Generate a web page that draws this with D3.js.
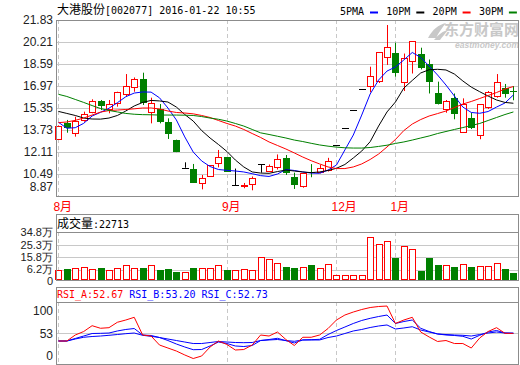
<!DOCTYPE html>
<html>
<head>
<meta charset="utf-8">
<script src="https://cdn.jsdelivr.net/npm/d3@7/dist/d3.min.js"></script>
<style>
    body { margin: 0; background: #fff; }
    svg { display: block; font-family: "Liberation Sans", Arial, sans-serif; }
    .grid line { stroke: #c8c8c8; shape-rendering: crispEdges; }
    .vgrid line { stroke: #c8c8c8; stroke-dasharray: 4,3; shape-rendering: crispEdges; }
    .frame { fill: none; stroke: #8c8c8c; shape-rendering: crispEdges; }
    .axis text { font-size: 12px; fill: #222; }
    .axis.vol text { font-size: 11px; }
    .mono { font-family: "DejaVu Sans Mono", monospace; font-size: 10px; }
    .cjk { font-family: "Noto Sans CJK SC", sans-serif; font-size: 12px; }
    .ma { fill: none; stroke-width: 1; }
</style>
</head>
<body>
<svg id="chart" width="520" height="365"></svg>
<script>

// Title / legend texts
var stockName = "大港股份";
var stockInfo = "[002077] 2016-01-22 10:55";
var maLabels = ["5PMA", "10PM", "20PM", "30PM"];
var maColors = ["#0000ff", "#000000", "#ff0000", "#008000"];

// Month ticks (index of first trading day of the month)
var monthIdx = [0, 20, 33, 40];
var monthLabels = ["8月", "9月", "12月", "1月"];

// Daily OHLC
var open = [13.05, 14.22, 13.49, 14.47, 15.08, 15.84, 15.28, 15.70, 16.36, 16.87,
    17.49, 15.03, 15.26, 14.34, 12.99, 10.95, 10.86, 9.85, 10.37, 11.28,
    11.72, 9.66, 9.62, 9.72, 11.20, 10.73, 11.03, 11.65, 10.25, 9.63,
    10.62, 10.66, 10.75, 12.60, 13.85, 15.17, 16.73, 16.99, 17.34, 19.07,
    19.42, 17.27, 18.83, 19.33, 18.59, 16.43, 15.26, 16.06, 13.56, 14.59,
    13.36, 15.40, 16.23, 16.80, 16.62];
var high = [14.05, 14.47, 14.71, 15.08, 15.99, 15.94, 15.94, 16.55, 17.85, 17.60,
    17.95, 16.11, 15.64, 14.59, 13.02, 11.35, 11.23, 10.42, 11.15, 12.26,
    11.74, 10.89, 9.83, 10.31, 11.20, 11.19, 11.93, 11.89, 10.59, 10.56,
    11.22, 11.15, 11.68, 12.60, 13.85, 15.17, 16.73, 18.39, 19.47, 21.46,
    20.16, 19.36, 20.28, 19.79, 18.92, 17.29, 15.94, 16.42, 16.06, 15.00,
    15.64, 16.60, 17.85, 17.12, 16.97];
var low = [13.02, 13.53, 13.24, 14.34, 14.96, 15.20, 14.96, 15.45, 16.18, 16.55,
    15.57, 14.22, 14.22, 13.07, 12.10, 10.95, 9.85, 9.36, 10.29, 10.98,
    10.64, 9.66, 9.44, 9.29, 10.59, 10.66, 10.82, 10.42, 9.39, 9.48,
    10.25, 10.54, 10.67, 12.60, 13.85, 15.17, 16.73, 16.51, 17.19, 18.52,
    17.66, 16.60, 17.89, 18.19, 16.42, 15.61, 15.00, 14.52, 13.55, 13.80,
    13.05, 15.28, 16.11, 16.11, 15.92];
var close = [14.02, 13.86, 14.42, 14.89, 15.84, 15.52, 15.62, 16.51, 16.97, 17.46,
    15.74, 15.70, 14.34, 13.44, 12.13, 10.95, 9.85, 10.17, 11.12, 11.76,
    10.66, 9.66, 9.66, 10.20, 11.20, 11.08, 11.59, 10.53, 9.68, 10.56,
    10.55, 10.95, 11.43, 12.60, 13.85, 15.17, 16.73, 17.71, 19.45, 19.86,
    17.95, 19.05, 20.26, 18.27, 17.27, 15.62, 15.89, 14.89, 15.64, 13.90,
    15.62, 16.51, 17.24, 16.36, 16.55];

// Moving averages
var ma5 = [14.30, 13.86, 13.90, 14.22, 14.76, 15.03, 15.33, 15.74, 16.18, 16.45,
    16.53, 16.52, 16.10, 15.35, 14.47, 13.22, 12.11, 11.45, 11.04, 10.82,
    10.76, 10.71, 10.64, 10.51, 10.37, 10.31, 10.49, 10.82, 10.75, 10.64,
    10.56, 10.54, 10.78, 11.15, 12.26, 13.36, 14.83, 16.38, 17.41, 18.07,
    18.37, 18.89, 19.44, 19.07, 18.44, 17.78, 17.04, 16.23, 15.42, 15.02,
    14.96, 15.09, 15.42, 15.72, 16.31];
var ma10 = [15.10, 14.95, 14.80, 14.61, 14.54, 14.53, 14.61, 14.80, 15.13, 15.50,
    15.76, 15.91, 15.87, 15.79, 15.42, 14.87, 14.39, 13.69, 13.14, 12.66,
    12.15, 11.52, 11.01, 10.64, 10.56, 10.54, 10.67, 10.78, 10.71, 10.64,
    10.59, 10.64, 10.75, 10.91, 11.19, 11.67, 12.18, 12.87, 14.02, 15.06,
    15.79, 16.82, 17.38, 17.93, 18.17, 18.20, 18.15, 17.85, 17.34, 16.89,
    16.55, 16.23, 15.94, 15.76, 15.70];
var ma20 = [14.27, 14.32, 14.44, 14.61, 14.83, 15.05, 15.16, 15.20, 15.24, 15.29,
    15.35, 15.35, 15.28, 15.13, 15.02, 14.98, 14.92, 14.80, 14.65, 14.43,
    14.21, 14.02, 13.77, 13.47, 13.18, 12.85, 12.59, 12.33, 12.04, 11.74,
    11.47, 11.23, 11.01, 10.89, 10.89, 11.01, 11.23, 11.56, 11.96, 12.48,
    13.03, 13.69, 14.17, 14.50, 14.76, 14.94, 15.13, 15.38, 15.64, 15.83,
    16.05, 16.27, 16.49, 16.75, 16.93];
var ma30 = [16.36, 16.20, 15.98, 15.76, 15.53, 15.31, 15.17, 15.06, 14.95, 14.89,
    14.86, 14.85, 14.83, 14.83, 14.83, 14.82, 14.80, 14.72, 14.61, 14.52,
    14.39, 14.21, 14.02, 13.77, 13.52, 13.40, 13.27, 13.14, 12.99, 12.88,
    12.75, 12.63, 12.54, 12.47, 12.42, 12.40, 12.40, 12.44, 12.52, 12.61,
    12.74, 12.85, 12.99, 13.14, 13.29, 13.47, 13.62, 13.77, 13.91, 14.06,
    14.21, 14.43, 14.65, 14.87, 15.06];

// Volume, in 万
var volume = [6.06, 6.82, 7.35, 8.10, 6.82, 7.58, 6.06, 7.35, 9.60, 7.35,
    7.58, 9.60, 6.06, 6.82, 4.55, 4.55, 7.58, 7.35, 7.35, 9.85,
    6.06, 6.06, 6.60, 6.06, 15.67, 14.20, 11.10, 8.33, 7.58, 8.10,
    9.85, 7.35, 10.40, 2.05, 2.05, 2.05, 2.05, 30.80, 25.70, 27.80,
    15.10, 24.20, 21.95, 5.30, 15.10, 9.85, 9.85, 8.33, 10.60, 8.33,
    9.10, 9.10, 11.36, 6.82, 4.00];
var volumeNow = "22713";

// RSI lines
var rsiA = [40, 40, 50, 55.8, 65.5, 61.2, 62.2, 71.2, 75, 79.5,
    50, 48.3, 33.3, 28.3, 23.3, 16.7, 10.8, 15, 30, 40,
    34.2, 25, 25.8, 33.3, 50, 48.3, 55, 42.5, 32.5, 46.2,
    46.2, 50, 60.8, 75, 83.3, 88.3, 92.5, 95.8, 97.5, 98.3,
    69.2, 75, 79.5, 55, 46.7, 39.2, 40.8, 35.8, 35.8, 28.3,
    45, 55.8, 62.2, 52.8, 52.67];
var rsiB = [40, 40, 44.2, 48.3, 52.5, 52.8, 53.3, 56.7, 59.2, 60.8,
    50, 49.2, 45.8, 40.8, 35, 30, 25.5, 25.8, 31.7, 38.3,
    35.8, 31.7, 30.8, 32.5, 40.8, 42.5, 44.5, 40.5, 36.7, 41.7,
    42.2, 42.8, 50.8, 57.5, 63.3, 69.2, 74.2, 77.8, 80.8, 83.3,
    69.2, 72.5, 75, 61.2, 55.8, 51.7, 50, 49.2, 47.8, 43.3,
    49.5, 55, 57.5, 53.3, 53.2];
var rsiC = [40, 40, 43.3, 46.2, 47.5, 48.3, 49.5, 50.8, 52.2, 53.3,
    49.5, 47.8, 45.8, 43.3, 40.8, 38.3, 35.8, 35.8, 37.5, 39.2,
    38.3, 37.5, 37.2, 37.5, 40.8, 41.7, 42.5, 40.8, 39.5, 41.7,
    41.7, 41.7, 45.8, 48.3, 52.5, 56.7, 59.2, 62.5, 65, 66.7,
    60, 61.7, 63.8, 58.3, 55, 51.7, 50.8, 50, 49.5, 48.3,
    50.8, 53.3, 55, 53.3, 52.73];
var rsiNames = ["RSI_A", "RSI_B", "RSI_C"];
var rsiNow = ["52.67", "53.20", "52.73"];
var rsiColors = ["#ff0000", "#0000ff", "#0000ff"];

// Axis tick labels
var priceTicks = [8.87, 10.49, 12.11, 13.73, 15.35, 16.97, 18.59, 20.21, 21.83];
var volTicks = [0, 6.2, 15.8, 25.3, 34.8];
var rsiTicks = [0, 53, 100];

/*
 * Layout
 */
var svg = d3.select("#chart");
var left = 56, right = 519;
var main = {top: 20, bottom: 196};
var volBox = {top: 214, head: 232, bottom: 280};
var rsiBox = {top: 287, head: 302, bottom: 364};

var n = close.length;
var idx = d3.range(n);
var x = d3.scalePoint().domain(idx).range([58.4, 513.4]);
var yPrice = d3.scaleLinear().domain([8.87, 21.83]).range([main.bottom, main.top]);
var yVol = d3.scaleLinear().domain([-1.5, 34.8]).range([volBox.bottom, volBox.head]);
var yRsi = d3.scaleLinear().domain([0, 100]).range([365, 305]);

function px(v) { return Math.round(v) + 0.5; }

// Watermark
var wm = svg.append("g").attr("fill", "#c8c8c8");
wm.append("text").attr("x", 519).attr("y", 35).attr("text-anchor", "end")
    .attr("font-family", "Noto Sans CJK SC").attr("font-weight", "bold").attr("font-size", 15)
    .text("东方财富网");
wm.append("text").attr("x", 519).attr("y", 47.5).attr("text-anchor", "end")
    .attr("font-weight", "bold").attr("font-style", "italic").attr("font-size", 8.5)
    .text("eastmoney.com");
wm.append("path").attr("d", "M428,38 C433,29 438,25 446,23 C442,28 439,32 436,38 Z M434,40 C439,34 443,31 448,30 C445,34 442,37 440,40 Z");

// Title
var title = svg.append("text").attr("x", 57).attr("y", 14);
title.append("tspan").attr("class", "cjk").text(stockName);
title.append("tspan").attr("class", "mono").text(stockInfo);

// MA legend
var lg = svg.append("g");
maLabels.forEach(function(lbl, k) {
    var lx = 340 + k * 46.3;
    lg.append("text").attr("class", "mono").attr("x", lx).attr("y", 15).text(lbl);
    lg.append("line").attr("x1", lx + 30).attr("x2", lx + 38).attr("y1", 12.5).attr("y2", 12.5)
        .attr("stroke", maColors[k]).attr("stroke-width", 2);
});

/*
 * Grids
 */
function hGrid(vals, scale) {
    svg.append("g").attr("class", "grid").selectAll("line").data(vals).enter().append("line")
        .attr("x1", left).attr("x2", right)
        .attr("y1", function(d) { return px(scale(d)); })
        .attr("y2", function(d) { return px(scale(d)); });
}
function vGrid(y1, y2) {
    svg.append("g").attr("class", "vgrid").selectAll("line").data(monthIdx).enter().append("line")
        .attr("x1", function(d) { return px(x(d)); }).attr("x2", function(d) { return px(x(d)); })
        .attr("y1", y1).attr("y2", y2);
}
hGrid(priceTicks.slice(1, -1), yPrice);
hGrid([6.2, 15.8, 25.3], yVol);
hGrid([53], yRsi);
vGrid(main.top, main.bottom);
vGrid(volBox.head, volBox.bottom);
vGrid(rsiBox.head, rsiBox.bottom);

/*
 * Axes (labels only)
 */
var axP = svg.append("g").attr("class", "axis").attr("transform", "translate(53,0)")
    .call(d3.axisLeft(yPrice).tickValues(priceTicks).tickSize(0).tickPadding(0).tickFormat(d3.format(".2f")));
axP.select(".domain").remove();
axP.selectAll(".tick").filter(function(d) { return d === 8.87; }).select("text").attr("dy", "-0.45em");

var axV = svg.append("g").attr("class", "axis vol").attr("transform", "translate(53,0)")
    .call(d3.axisLeft(yVol).tickValues(volTicks).tickSize(0).tickPadding(0)
        .tickFormat(function(d) { return d === 0 ? "0" : d + "万"; }));
axV.select(".domain").remove();
axV.selectAll(".tick").filter(function(d) { return d === 0; })
    .attr("transform", "translate(0," + (volBox.bottom + 1.5) + ")");
axV.selectAll(".tick").filter(function(d) { return d === 6.2; }).select("text").attr("dy", "0.2em");

var axR = svg.append("g").attr("class", "axis").attr("transform", "translate(53,0)")
    .call(d3.axisLeft(yRsi).tickValues(rsiTicks).tickSize(0).tickPadding(0));
axR.select(".domain").remove();
axR.selectAll(".tick").filter(function(d) { return d === 100; }).select("text").attr("dy", "0.8em");
axR.selectAll(".tick").filter(function(d) { return d === 0; }).select("text").attr("dy", "-0.5em");

// Month labels
svg.append("g").selectAll("text").data(monthIdx).enter().append("text")
    .attr("x", function(d) { return x(d) - 5; }).attr("y", 211)
    .attr("fill", "#ff0000").attr("font-size", 12)
    .attr("font-family", "Liberation Sans, Noto Sans CJK SC")
    .text(function(d, k) { return monthLabels[k]; });

/*
 * Candles
 */
var gc = svg.append("g");
idx.forEach(function(i) {
    var o = open[i], c = close[i];
    var cx = px(x(i));
    var col = c > o ? "#ff0000" : (c < o ? "#008000" : "#000000");
    gc.append("line").attr("x1", cx).attr("x2", cx)
        .attr("y1", yPrice(high[i])).attr("y2", yPrice(low[i])).attr("stroke", col);
    var top = Math.round(yPrice(Math.max(o, c))), bot = Math.round(yPrice(Math.min(o, c)));
    if (c > o) {
        gc.append("rect").attr("x", cx - 3).attr("y", top + 0.5).attr("width", 6)
            .attr("height", Math.max(bot - top, 1)).attr("fill", "#fff").attr("stroke", col);
    } else if (c < o) {
        gc.append("rect").attr("x", cx - 3.5).attr("y", top).attr("width", 7)
            .attr("height", Math.max(bot - top, 1)).attr("fill", col);
    } else {
        gc.append("line").attr("x1", cx - 3.5).attr("x2", cx + 3.5)
            .attr("y1", top + 0.5).attr("y2", top + 0.5).attr("stroke", col);
    }
});

// MA lines
var maSeries = [ma5, ma10, ma20, ma30];
var maLine = d3.line().x(function(d, i) { return x(i); }).y(function(d) { return yPrice(d); });
svg.append("g").selectAll("path").data(maSeries).enter().append("path")
    .attr("class", "ma")
    .attr("stroke", function(d, k) { return maColors[k]; })
    .attr("d", maLine);

/*
 * Volume
 */
var gv = svg.append("g");
idx.forEach(function(i) {
    var up = close[i] >= open[i];
    var cx = px(x(i));
    var top = Math.round(yVol(volume[i]));
    if (up) {
        gv.append("rect").attr("x", cx - 3).attr("y", top + 0.5).attr("width", 6)
            .attr("height", volBox.bottom - top - 1).attr("fill", "#fff").attr("stroke", "#ff0000");
    } else {
        gv.append("rect").attr("x", cx - 3.5).attr("y", top).attr("width", 7)
            .attr("height", volBox.bottom - top).attr("fill", "#008000");
    }
});

var vt = svg.append("text").attr("x", 57).attr("y", 228);
vt.append("tspan").attr("class", "cjk").text("成交量");
vt.append("tspan").attr("class", "mono").text(":" + volumeNow);

/*
 * RSI
 */
var rsiLine = d3.line().x(function(d, i) { return x(i); }).y(function(d) { return yRsi(d); });
svg.append("g").selectAll("path").data([rsiC, rsiB, rsiA]).enter().append("path")
    .attr("class", "ma")
    .attr("stroke", function(d, k) { return rsiColors[2 - k]; })
    .attr("d", rsiLine);

var rt = svg.append("text").attr("class", "mono").attr("x", 57).attr("y", 298);
rsiNames.forEach(function(nm, k) {
    rt.append("tspan").attr("fill", rsiColors[k]).text((k ? " " : "") + nm + ":" + rsiNow[k]);
});

/*
 * Frames
 */
svg.append("rect").attr("class", "frame").attr("x", left + 0.5).attr("y", main.top + 0.5)
    .attr("width", right - left - 1).attr("height", main.bottom - main.top);
[volBox, rsiBox].forEach(function(b) {
    svg.append("rect").attr("class", "frame").attr("x", left + 0.5).attr("y", b.top + 0.5)
        .attr("width", right - left - 1).attr("height", b.bottom - b.top);
    svg.append("line").attr("class", "frame").attr("x1", left).attr("x2", right)
        .attr("y1", b.head + 0.5).attr("y2", b.head + 0.5);
});

</script>
</body>
</html>
